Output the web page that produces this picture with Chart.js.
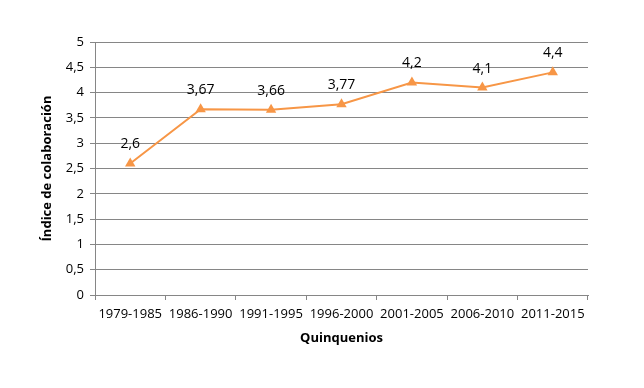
<!DOCTYPE html>
<html>
<head>
<meta charset="utf-8">
<script src="https://cdn.jsdelivr.net/npm/chart.js@4.4.0/dist/chart.umd.min.js"></script>
<style>
  html, body { margin: 0; padding: 0; background: #fff; }
  #wrap { width: 644px; height: 388px; }
</style>
</head>
<body>
<div id="wrap"><canvas id="chart" width="644" height="388"></canvas></div>
<script>
// Data
const periods = ['1979-1985', '1986-1990', '1991-1995', '1996-2000', '2001-2005', '2006-2010', '2011-2015'];
const indexValues = [2.6, 3.67, 3.66, 3.77, 4.2, 4.1, 4.4];
const yTicks = [0, 0.5, 1, 1.5, 2, 2.5, 3, 3.5, 4, 4.5, 5];

const fmt = v => String(v).replace('.', ',');
const FONT = "'Open Sans', 'Liberation Sans', sans-serif";

// Value labels above each point
const pointLabels = {
  id: 'pointLabels',
  afterDatasetsDraw(chart) {
    const ctx = chart.ctx;
    const meta = chart.getDatasetMeta(0);
    ctx.save();
    ctx.font = '14px ' + FONT;
    ctx.fillStyle = '#000';
    ctx.textAlign = 'center';
    ctx.textBaseline = 'middle';
    meta.data.forEach((pt, i) => {
      ctx.fillText(fmt(indexValues[i]), pt.x, pt.y - 19);
    });
    ctx.restore();
  }
};

new Chart(document.getElementById('chart'), {
  type: 'line',
  data: {
    labels: periods,
    datasets: [{
      data: indexValues,
      borderColor: '#F79646',
      backgroundColor: '#F79646',
      borderWidth: 2,
      pointStyle: 'triangle',
      pointRadius: 6,
      pointBorderWidth: 0,
      tension: 0
    }]
  },
  options: {
    responsive: false,
    animation: false,
    layout: { padding: { top: 42, right: 56, left: 0, bottom: 0 } },
    plugins: {
      legend: { display: false },
      tooltip: { enabled: false }
    },
    scales: {
      x: {
        offset: true,
        grid: {
          offset: true,
          drawOnChartArea: false,
          color: '#868686',
          tickLength: 5
        },
        border: { color: '#868686' },
        ticks: { color: '#000', font: { family: FONT, size: 13 }, maxRotation: 0, padding: 6 },
        title: {
          display: true,
          text: 'Quinquenios',
          color: '#000',
          font: { family: FONT, size: 13, weight: 'bold' },
          padding: { top: 0, bottom: 42 }
        },
        afterFit(scale) { scale.height = 388 - 295; }
      },
      y: {
        min: 0,
        max: 5,
        afterBuildTicks(scale) { scale.ticks = yTicks.map(v => ({ value: v })); },
        grid: { color: '#868686', tickLength: 5 },
        border: { color: '#868686' },
        ticks: {
          color: '#000',
          font: { family: FONT, size: 13 },
          padding: 6,
          callback: v => fmt(v)
        },
        title: {
          display: true,
          text: 'Índice de colaboración',
          color: '#000',
          font: { family: FONT, size: 13, weight: 'bold' },
          padding: { top: 39, bottom: 0 }
        },
        afterFit(scale) { scale.width = 95; }
      }
    }
  },
  plugins: [pointLabels]
});
</script>
</body>
</html>
